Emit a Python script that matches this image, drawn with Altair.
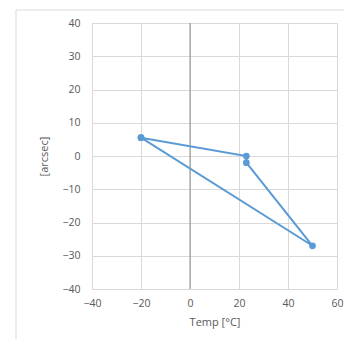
import altair as alt
import pandas as pd

temps = [-20, 23, 23, 50, -20]
arcsec = [5.5, 0, -2, -27, 5.5]
order = [0, 1, 2, 3, 4]

df = pd.DataFrame({"temp": temps, "arcsec": arcsec, "ord": order})

FONT = "Open Sans"
LABEL = "#595959"
BLUE = "#5B9BD5"

xscale = alt.Scale(domain=[-40, 60], nice=False)
yscale = alt.Scale(domain=[-40, 40], nice=False)

xaxis = alt.Axis(values=[-40, -20, 0, 20, 40, 60], title="Temp [°C]", domain=False, ticks=False,
                 grid=True, gridColor="#D9D9D9", labelColor=LABEL, labelFont=FONT, labelFontSize=10.5,
                 labelPadding=9, titleFont=FONT, titleFontSize=11, titleColor=LABEL,
                 titleFontWeight="normal", titlePadding=8, labelFlush=False, labelOverlap=False)
yaxis = alt.Axis(values=[-40, -30, -20, -10, 0, 10, 20, 30, 40], title="[arcsec]", domain=False,
                 ticks=False, grid=True, gridColor="#D9D9D9", labelColor=LABEL, labelFont=FONT,
                 labelFontSize=10.5, labelPadding=12, titleFont=FONT, titleFontSize=11,
                 titleColor=LABEL, titleFontWeight="normal", titlePadding=12, labelFlush=False,
                 labelOverlap=False)

frame = alt.Chart(pd.DataFrame({"a": [0]})).mark_rect(
    fill="white", fillOpacity=0, stroke="#D9D9D9", strokeWidth=1
).encode(x=alt.value(-76), x2=alt.value(270), y=alt.value(-13), y2=alt.value(345))

zero_line = alt.Chart(pd.DataFrame({"z": [0]})).mark_rule(color="#8C8C8C", strokeWidth=1).encode(
    x=alt.X("z:Q", scale=xscale, axis=xaxis)
)

line = alt.Chart(df).mark_line(color=BLUE, strokeWidth=2).encode(
    x=alt.X("temp:Q", scale=xscale, axis=xaxis),
    y=alt.Y("arcsec:Q", scale=yscale, axis=yaxis),
    order="ord:Q",
)
pts = alt.Chart(df).mark_point(filled=True, color=BLUE, size=45, opacity=1).encode(
    x=alt.X("temp:Q", scale=xscale, axis=xaxis),
    y=alt.Y("arcsec:Q", scale=yscale, axis=yaxis),
)

chart = alt.layer(frame, zero_line, line, pts).properties(
    width=245, height=266,
    autosize=alt.AutoSizeParams(type="none"),
    padding={"left": 84, "top": 15, "right": 7, "bottom": 50},
).configure_view(stroke=None).configure(background="white")

chart.save("out.html", embed_options={"renderer": "svg", "actions": False})
